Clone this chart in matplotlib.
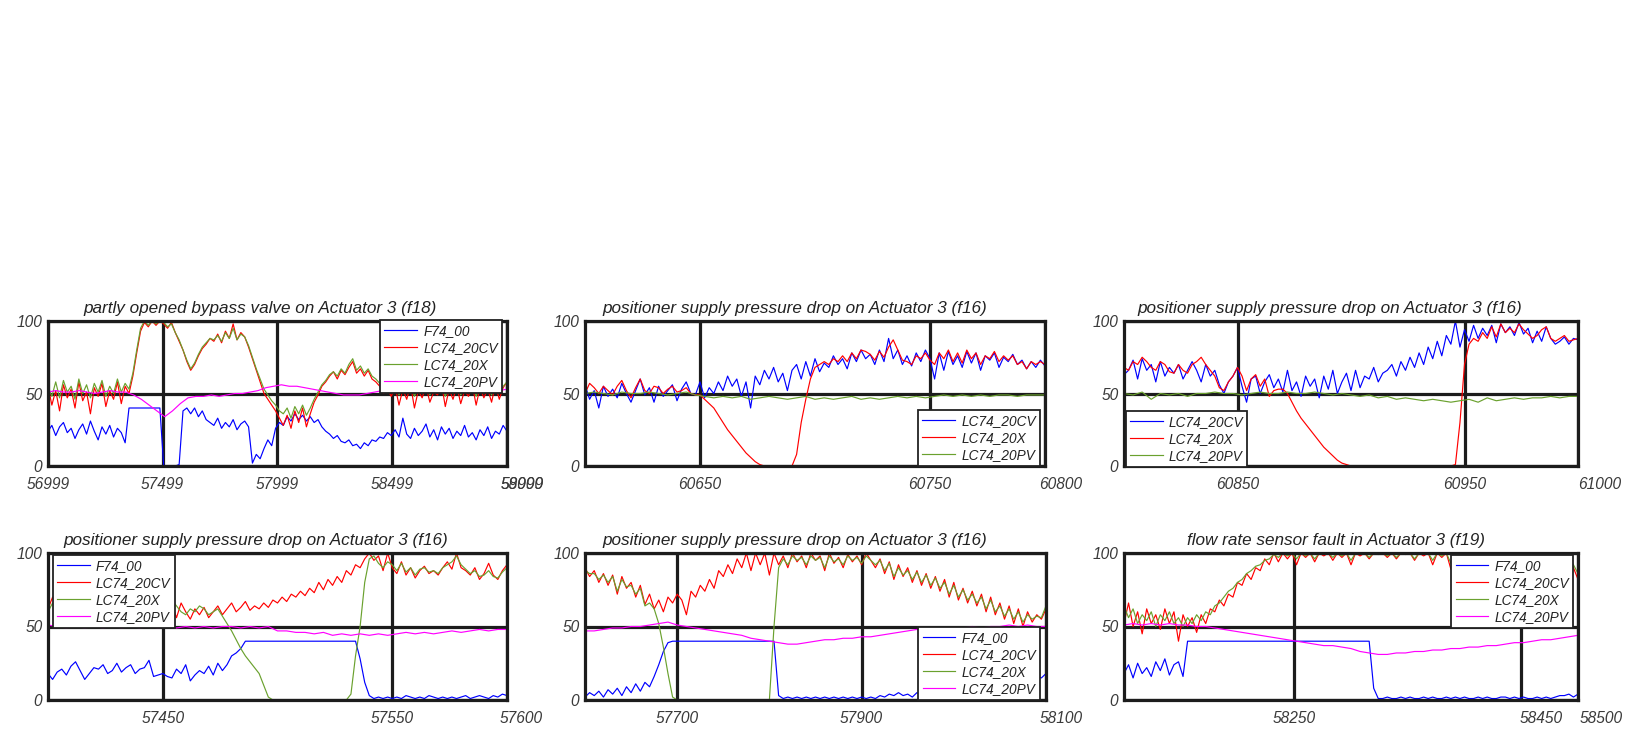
import numpy as np
import matplotlib
matplotlib.use("Agg")
import matplotlib.pyplot as plt
from matplotlib.transforms import ScaledTranslation

plt.rcParams['font.family'] = ['Liberation Sans', 'DejaVu Sans']
plt.rcParams['font.style'] = 'italic'

# ---------------- data ----------------
# Panel 1: partly opened bypass valve (f18), x 56999..59000
p1_range = (56999, 59000)
p1_f74 = [24, 28, 21, 27, 30, 23, 26, 19, 25, 29, 22, 31, 24, 18, 27, 22, 28, 20, 26, 23, 16,
          40, 40, 40, 40, 40, 40, 40, 40, 40,
          0, 0, 0, 0, 1,
          38, 40, 36, 40, 34, 38, 32, 30, 28, 33, 26, 30, 27, 32, 25, 29, 31, 27,
          2, 8, 5, 12, 18, 14, 26, 30, 28, 34, 31, 36, 32, 35, 31, 34, 30, 32, 27, 24,
          22, 19, 21, 17, 16, 18, 14, 15, 12, 16, 14, 18, 17, 20, 19, 23, 21, 25, 20, 33,
          22, 19, 26, 21, 24, 29, 20, 25, 18, 27, 22, 26, 19, 24, 21, 28, 20, 23, 18, 25,
          21, 27, 19, 24, 22, 28, 24]
p1_cv = [55, 42, 52, 38, 56, 47, 53, 40, 58, 45, 51, 36, 54, 48, 57, 41, 52, 46, 58, 43, 55, 50,
         62, 78, 93, 99, 96, 100, 97, 100, 98, 95, 99,
         92, 86, 80, 72, 66, 70, 76, 81, 84, 88,
         86, 91, 85, 93, 88, 98, 87, 92, 89,
         82, 74, 66, 58, 50, 46, 42, 38, 33,
         28, 35, 26, 38, 30, 40, 27, 36,
         44, 49, 55, 58, 62,
         65, 60, 66, 63, 68, 72, 64, 67, 62, 66, 60,
         58, 55, 50, 53,
         48, 55, 42, 53, 46, 56, 40, 52, 47, 55, 44, 51, 49, 57, 41, 53, 46, 55, 43, 52,
         48, 56, 42, 54, 47, 53, 44, 56, 46, 54, 58]
p1_x = [55, 48, 58, 47, 59, 51, 55, 46, 60, 50, 56, 47, 57, 51, 59, 48, 55, 50, 60, 51, 57, 53,
        64, 80, 95, 100, 97, 100, 98, 100, 99, 96, 98,
        92, 87, 80, 73, 67, 71, 77, 82, 85, 88,
        87, 90, 86, 92, 88, 95, 87, 91, 89,
        83, 75, 67, 60, 53, 49, 45, 42, 38,
        36, 40, 33, 41, 36, 42, 35, 40,
        46, 51, 56, 59, 63,
        65, 62, 67, 64, 70, 74, 66, 69, 64, 67, 62,
        60, 57, 54, 55,
        52, 57, 49, 55, 51, 58, 48, 55, 50, 57, 49, 54, 52, 58, 48, 55, 50, 57, 49, 54,
        52, 58, 48, 56, 50, 55, 49, 57, 51, 55, 58]
p1_pv = [51, 52, 51, 51, 52, 51, 50, 51, 52, 51, 51,
         49, 46, 42, 38, 34, 38, 43, 47, 48, 48, 49, 48, 49, 50, 50, 51, 52, 54, 55, 56,
         55, 55, 54, 53, 52, 51, 50, 49, 49, 49, 50, 51,
         52, 52, 51, 52, 53, 52, 52, 53, 52, 53, 52, 53, 53, 52, 53, 52, 53]

# Panel 2: positioner supply pressure drop (f16), x 60600..60800
p2_range = (60600, 60800)
p2_cv = [56, 46, 52, 40, 55, 48, 53, 47, 57, 50, 44, 52, 60, 49, 54, 44, 55, 48, 52, 56, 45, 53, 58, 50, 49, 58,
         47, 54, 50, 58, 52, 62, 55, 60, 48, 58, 40, 62, 56, 66, 60, 68, 58, 64, 52, 66, 70, 60, 72, 62, 74,
         65, 71, 68, 76, 70, 74, 67, 78, 72, 80, 74, 77, 70, 80, 72, 88, 74, 80, 70, 76, 69, 78, 72, 80, 74,
         60, 78, 66, 79, 70, 76, 68, 79, 71, 78, 66, 76, 73, 78, 68, 75, 72, 77, 70, 73, 67, 72, 68, 73, 69]
p2_x = [50, 57, 54, 50, 55, 52, 49, 55, 59, 52, 47, 54, 60, 52, 50, 55, 54, 50, 53, 55, 51, 52, 54, 50, 49, 49,
        46, 43, 40, 35, 30, 25, 21, 17, 13, 9, 6, 3, 1,
        0, 0, 0, 0, 0, 0, 0,
        8, 30, 46, 60, 68,
        70, 72, 70, 74, 72, 76, 72, 78, 74, 80, 79, 77, 73, 79, 75, 82, 87, 80, 73, 72, 70, 76, 74, 78, 73,
        70, 78, 74, 80, 72, 78, 71, 80, 74, 78, 70, 76, 74, 79, 72, 76, 73, 76, 70, 72, 67, 72, 70, 72, 70]
p2_pv = [50, 51, 50, 49, 51, 50, 50, 51, 50, 49, 50, 51, 49, 48, 47, 48, 47, 48, 46, 47,
         48, 47, 46, 47, 48, 46, 47, 46, 47, 48, 46, 47, 46, 47, 48, 47, 48, 47, 48, 49,
         48, 49, 48, 49, 48, 49, 49, 48, 49, 49, 49]

# Panel 3: positioner supply pressure drop (f16), x 60800..61000
p3_range = (60800, 61000)
p3_cv = [63, 66, 73, 60, 74, 66, 70, 58, 72, 62, 68, 64, 70, 60, 66, 72, 66, 58, 70, 62, 66, 56, 50, 58, 62,
         68, 55, 44, 60, 62, 50, 58, 63, 54, 60, 51, 66, 52, 58, 48, 62, 55, 60, 47, 62, 53, 66, 50, 58, 64,
         52, 66, 54, 62, 60, 68, 58, 64, 66, 70, 62, 72, 66, 75, 68, 78, 70, 82, 74, 86, 76, 90, 84, 100, 82,
         94, 86, 97, 88, 95, 90, 97, 85, 98, 92, 96, 90, 99, 91, 95, 85, 93, 86, 96, 88, 84, 86, 89, 84, 88, 87]
p3_x = [68, 66, 72, 70, 75, 72, 68, 66, 72, 70, 65, 64, 70, 66, 64, 70, 72, 75, 70, 66, 62, 54, 52, 58, 62,
        68, 62, 52, 60, 63, 55, 60, 48, 52, 53,
        53, 50, 44, 38, 33, 29, 25, 21, 17, 13, 10, 7, 4, 2, 1, 0,
        0, 0, 0, 0, 0, 0, 0, 0, 0, 0, 0, 0, 0, 0, 0, 0, 0, 0, 0, 0, 0, 0,
        1, 30, 70, 84, 88, 86, 92, 88, 96, 89, 98, 92, 95, 92, 98, 94, 91, 88, 90, 94, 96, 88, 86, 88, 90, 86, 87, 88]
p3_pv = [50, 49, 51, 46, 50, 49, 50, 48, 50, 50, 51, 50, 50, 49, 50, 51, 50, 50, 51, 50,
         50, 51, 50, 49, 50, 49, 48, 49, 47, 48, 46, 47, 46, 45, 46, 45, 44, 45, 46, 44,
         47, 45, 46, 47, 46, 47, 47, 48, 47, 48, 48]

# Panel 4: positioner supply pressure drop (f16), x 57400..57600
p4_range = (57400, 57600)
p4_f74 = [18, 14, 19, 21, 17, 23, 26, 20, 14, 18, 22, 21, 24, 18, 20, 25, 19, 22, 24, 18, 21, 22, 27, 16, 17,
          18, 16, 15, 21, 18, 24, 13, 17, 20, 18, 23, 17, 25, 20, 24, 30, 32, 35,
          40, 40, 40, 40, 40, 40, 40, 40, 40, 40, 40, 40, 40, 40, 40, 40, 40, 40, 40, 40, 40, 40, 40, 40, 40,
          28, 12, 3, 1, 2, 1, 2, 1, 2, 1, 3, 2, 1, 2, 1, 3, 2, 1, 2, 1, 2, 1, 2, 3, 1, 2, 3, 2, 1, 3, 2, 4, 3]
p4_cv = [62, 70, 60, 64, 58, 66, 60, 63, 57, 62, 58, 64, 60, 57, 62, 58, 55, 61, 56, 63, 57, 60, 54, 60, 57,
         62, 52, 65, 56, 66, 60, 55, 62, 58, 63, 56, 60, 64, 58, 62, 66, 60, 63, 67, 61, 64, 62, 66, 63, 68,
         66, 70, 67, 72, 70, 74, 71, 76, 73, 80, 75, 82, 78, 84, 80, 88, 85, 92, 90, 96, 100, 95, 98, 88, 100,
         90, 86, 94, 85, 90, 83, 88, 91, 86, 88, 85, 90, 94, 89, 100, 90, 88, 85, 90, 82, 86, 93, 85, 82, 88, 92]
p4_x = [60, 66, 62, 62, 60, 64, 61, 62, 59, 61, 59, 62, 60, 58, 61, 59, 57, 60, 58, 61, 58, 59, 57, 59, 58,
        60, 60, 68, 64, 60, 58, 62, 60, 64, 62, 58, 60, 62, 57,
        52, 47, 41, 35, 30, 26, 22, 18, 10, 2, 0,
        0, 0, 0, 0, 0, 0, 0, 0, 0, 0, 0, 0, 0, 0, 0, 0,
        4, 30, 50, 80, 96, 98, 93, 90, 94, 92, 88, 93, 87, 90, 85, 89, 90, 87, 88, 86,
        90, 92, 94, 98, 92, 89, 86, 88, 84, 85, 88, 84, 83, 87, 90]
p4_pv = [51, 50, 49, 50, 49, 50, 49, 50, 49, 50, 49, 50, 49, 50, 49, 50, 49, 50, 49, 50,
         50, 49, 50, 49, 50, 47, 47, 46, 46, 45, 46, 44, 45, 44, 45, 44, 45, 44, 45, 46,
         45, 46, 45, 46, 47, 46, 47, 48, 47, 48, 48]

# Panel 5: positioner supply pressure drop (f16), x 57600..58100
p5_range = (57600, 58100)
p5_f74 = [2, 5, 3, 6, 2, 7, 4, 8, 3, 9, 5, 11, 6, 12, 9,
          16, 24, 33, 39, 40,
          40, 40, 40, 40, 40, 40, 40, 40, 40, 40, 40, 40, 40, 40, 40, 40, 40, 40, 40, 40, 40, 40,
          3, 1, 2, 1, 2, 1, 2, 1, 2, 1, 2, 1, 2, 1, 2, 1, 2, 1, 2, 1,
          2, 1, 3, 2, 4, 3, 5, 3, 4, 2, 5, 3, 4, 6, 3, 5, 4, 6, 5, 7,
          5, 7, 6, 8, 7, 9, 8, 10, 9, 11, 10, 12, 11, 13, 12, 14, 16, 15, 18]
p5_cv = [90, 84, 88, 80, 86, 78, 85, 72, 84, 76, 80, 70, 78, 65, 72, 62, 68, 60, 70, 66, 72, 68, 58, 74, 70,
         78, 74, 82, 76, 88, 84, 92, 86, 96, 90, 100, 88, 100, 92, 100, 85, 100, 92, 98, 90, 100, 94, 98, 90, 100,
         95, 98, 88, 100, 93, 97, 90, 99, 94, 98, 92, 100, 95, 90, 96, 86, 94, 82, 92, 84, 90, 80, 88, 78, 86,
         76, 84, 74, 82, 70, 80, 68, 76, 66, 74, 64, 72, 60, 70, 58, 66, 55, 64, 52, 62, 50, 60, 53, 58, 55, 62]
p5_x = [88, 86, 86, 82, 85, 80, 84, 74, 82, 77, 78, 72, 76, 64, 66,
        62, 52, 36, 18, 2,
        0, 0, 0, 0, 0, 0, 0, 0, 0, 0, 0, 0, 0, 0, 0, 0, 0, 0, 0, 0, 0,
        50, 90,
        96, 92, 98, 95, 97, 92, 98, 95, 97, 90, 98, 94, 96, 92, 98, 95, 97, 93, 98, 95,
        92, 95, 88, 93, 84, 90, 85, 88, 82, 87, 80, 85, 78, 83, 76, 80, 72, 78, 70, 75,
        68, 72, 66, 70, 62, 68, 60, 64, 57, 62, 55, 60, 53, 58, 55, 57, 56, 64]
p5_pv = [47, 47, 48, 49, 49, 50, 50, 51, 52, 53, 51, 50, 49, 48, 47, 46, 45, 44, 42, 41,
         40, 39, 38, 38, 39, 40, 41, 41, 42, 42, 43, 43, 44, 45, 46, 47, 48, 47, 48, 49,
         48, 49, 50, 49, 50, 50, 51, 50, 51, 50, 50]

# Panel 6: flow rate sensor fault (f19), x 58100..58500
p6_range = (58100, 58500)
p6_f74 = [18, 24, 15, 25, 18, 22, 16, 26, 20, 28, 17, 24, 26, 16,
          40, 40, 40, 40, 40, 40, 40, 40, 40, 40, 40, 40, 40, 40, 40, 40, 40, 40, 40, 40, 40,
          40, 40, 40, 40, 40, 40, 40, 40, 40, 40, 40, 40, 40, 40, 40, 40, 40, 40, 40, 40,
          8, 1, 1, 2, 1, 1, 2, 1, 2, 1, 1, 2, 1, 2, 1, 1, 2, 1, 2, 1,
          2, 1, 1, 2, 1, 2, 1, 1, 2, 2, 1, 2, 1, 2, 1, 1, 2, 1, 2, 1, 2, 3, 3, 4, 2, 4]
p6_cv = [52, 66, 50, 60, 45, 62, 52, 58, 48, 62, 52, 60, 40, 58, 50, 56, 46, 58, 52, 62, 60, 68, 64, 72, 70,
         80, 78, 86, 82, 90, 88, 96, 92, 100, 94, 100, 96, 100, 92, 100, 97, 100, 94, 100, 98, 100, 95, 100, 97, 100,
         92, 100, 98, 100, 96, 100, 99, 100, 97, 100, 96, 100, 99, 100, 95, 100, 98, 100, 92, 100, 97, 100, 89, 100, 98,
         100, 93, 100, 96, 100, 88, 100, 95, 100, 97, 100, 94, 100, 96, 100, 98, 100, 95, 100, 97, 100, 94, 100, 96, 90, 82]
p6_x = [64, 56, 62, 52, 58, 54, 60, 50, 58, 54, 60, 52, 56, 50, 56, 52, 58, 54, 60, 58, 64, 66, 70, 74, 76,
        80, 82, 86, 88, 91, 92, 95, 96, 99, 97, 100, 98, 100, 96, 100, 98, 100, 96, 100, 99, 100, 97, 100, 98, 100,
        95, 100, 99, 100, 97, 100, 99, 100, 98, 100, 97, 100, 99, 100, 96, 100, 99, 100, 95, 100, 98, 100, 93, 100, 99,
        100, 96, 100, 97, 100, 92, 100, 97, 100, 98, 100, 96, 100, 97, 100, 99, 100, 96, 100, 98, 100, 96, 100, 97, 92, 86]
p6_pv = [51, 52, 51, 52, 51, 52, 51, 51, 50, 50, 49, 48, 47, 46, 45, 44, 43, 42, 41, 40,
         39, 38, 37, 37, 36, 35, 33, 32, 31, 31, 32, 32, 33, 33, 34, 34, 35, 35, 36, 36,
         37, 37, 38, 39, 39, 40, 41, 41, 42, 43, 44]

titles = ["partly opened bypass valve on Actuator 3 (f18)",
          "positioner supply pressure drop on Actuator 3 (f16)",
          "positioner supply pressure drop on Actuator 3 (f16)",
          "positioner supply pressure drop on Actuator 3 (f16)",
          "positioner supply pressure drop on Actuator 3 (f16)",
          "flow rate sensor fault in Actuator 3 (f19)"]
xtick_vals = [[56999, 57499, 57999, 58499, 58999, 59000],
              [60650, 60750, 60800],
              [60850, 60950, 61000],
              [57450, 57550, 57600],
              [57700, 57900, 58100],
              [58250, 58450, 58500]]
ytick_vals = [0, 50, 100]

BLUE, RED, GREEN, MAG = '#0000FF', '#FF0000', '#6AA12E', '#FF00FF'

panels = [
    dict(rng=p1_range, series=[(p1_f74, BLUE, 'F74_00'), (p1_cv, RED, 'LC74_20CV'),
                               (p1_x, GREEN, 'LC74_20X'), (p1_pv, MAG, 'LC74_20PV')],
         pos=(48, 321, 459, 145), loc='upper right', anchor=(0.989, 1.006),
         shifts=[0, 0, 0, 0, 15, 15], tx=0.462),
    dict(rng=p2_range, series=[(p2_cv, BLUE, 'LC74_20CV'), (p2_x, RED, 'LC74_20X'),
                               (p2_pv, GREEN, 'LC74_20PV')],
         pos=(585, 321, 460, 145), loc='lower right', anchor=(0.989, 0.0),
         shifts=[0, 0, 16], tx=0.4565),
    dict(rng=p3_range, series=[(p3_cv, BLUE, 'LC74_20CV'), (p3_x, RED, 'LC74_20X'),
                               (p3_pv, GREEN, 'LC74_20PV')],
         pos=(1124, 321, 454, 145), loc='lower left', anchor=(0.004, -0.005),
         shifts=[0, 0, 22], tx=0.4537),
    dict(rng=p4_range, series=[(p4_f74, BLUE, 'F74_00'), (p4_cv, RED, 'LC74_20CV'),
                               (p4_x, GREEN, 'LC74_20X'), (p4_pv, MAG, 'LC74_20PV')],
         pos=(48, 553, 459, 147), loc='upper left', anchor=(0.011, 0.986),
         shifts=[0, 0, 14], tx=0.453),
    dict(rng=p5_range, series=[(p5_f74, BLUE, 'F74_00'), (p5_cv, RED, 'LC74_20CV'),
                               (p5_x, GREEN, 'LC74_20X'), (p5_pv, MAG, 'LC74_20PV')],
         pos=(585, 553, 461, 147), loc='lower right', anchor=(0.987, 0.0),
         shifts=[0, 0, 15], tx=0.4555),
    dict(rng=p6_range, series=[(p6_f74, BLUE, 'F74_00'), (p6_cv, RED, 'LC74_20CV'),
                               (p6_x, GREEN, 'LC74_20X'), (p6_pv, MAG, 'LC74_20PV')],
         pos=(1124, 553, 454, 147), loc='upper right', anchor=(0.989, 0.986),
         shifts=[0, 20, 23], tx=0.467),
]

W, H = 1627, 729
fig = plt.figure(figsize=(W / 100, H / 100), dpi=100)
fig.patch.set_facecolor('white')

DARK = '#1c1c1c'
for k, p in enumerate(panels):
    x0, ytop, w, h = p['pos']
    ax = fig.add_axes([x0 / W, 1 - (ytop + h) / H, w / W, h / H])
    for vals, col, lab in p['series']:
        xs = np.linspace(p['rng'][0], p['rng'][1], len(vals))
        ax.plot(xs, vals, color=col, lw=0.85, label=lab)
    ax.set_xlim(*p['rng'])
    ax.set_ylim(0, 100)
    ax.set_xticks(xtick_vals[k])
    ax.set_xticklabels([str(v) for v in xtick_vals[k]])
    ax.set_yticks(ytick_vals)
    ax.set_axisbelow(True)
    ax.grid(True, color=DARK, lw=2.3)
    ax.tick_params(length=0, labelsize=11.2, labelcolor='#3a3a3a')
    ax.tick_params(axis='x', pad=8)
    ax.tick_params(axis='y', pad=4)
    for sp in ax.spines.values():
        sp.set_linewidth(2.3)
        sp.set_color(DARK)
        sp.set_zorder(5)
    for tick, dx in zip(ax.xaxis.get_major_ticks(), p['shifts']):
        if dx:
            tick.label1.set_transform(tick.label1.get_transform() +
                                      ScaledTranslation(dx / 100, 0, fig.dpi_scale_trans))
    ax.set_title(titles[k], x=p['tx'], pad=6, fontsize=12.3, color='#222222', style='italic')
    leg = ax.legend(loc=p['loc'], bbox_to_anchor=p['anchor'], borderaxespad=0,
                    fontsize=9.8, frameon=True, fancybox=False, framealpha=1,
                    edgecolor='#222222', handlelength=2.4, handletextpad=0.45,
                    labelspacing=0.22, borderpad=0.3)
    leg.get_frame().set_linewidth(1.3)
    leg.set_zorder(10)
    for t in leg.get_texts():
        t.set_color('#222222')

fig.savefig('out.png', dpi=100, facecolor='white')
